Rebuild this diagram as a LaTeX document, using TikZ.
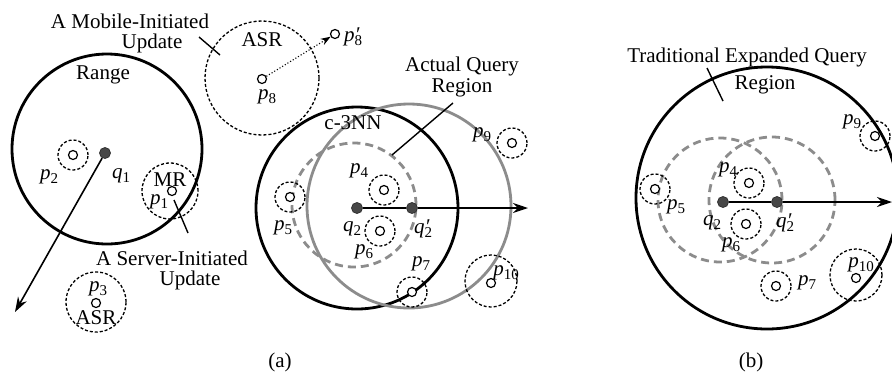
\documentclass[tikz,border=0pt]{standalone}
\usepackage{fontspec}
\setmainfont{Liberation Serif}
\usetikzlibrary{arrows.meta}
% point labels: italic letter with a lowered index, optionally primed
\newcommand\idx[1]{\raisebox{-0.4ex}{\fontsize{15}{15}\selectfont #1}}
\newcommand\lb[2]{\textit{#1}\idx{#2}}
\newcommand\lbp[2]{\textit{#1}\rlap{\kern0.5pt\textit{′}}\idx{#2}}
\begin{document}
\begin{tikzpicture}[x=1pt,y=-1pt,
  every node/.style={font=\fontsize{21}{23}\selectfont, inner sep=0pt},
  bigc/.style={line width=2.8pt},
  grayc/.style={draw=gray!90, line width=2.8pt},
  graydash/.style={draw=gray!90, line width=2.8pt, dash pattern=on 8pt off 5pt},
  sr/.style={line width=1.3pt, dash pattern=on 3pt off 2pt},
  pt/.style={circle, draw, line width=1.2pt, minimum size=9pt, fill=white},
  qd/.style={circle, draw=black!80, fill=black!72, line width=0.8pt, minimum size=11pt},
  callout/.style={line width=1.4pt},
  move/.style={line width=1.6pt, -{Stealth[length=15pt,width=10pt]}}
]
\useasboundingbox (0,0) rectangle (892,376);
\clip (0,0) rectangle (892,376);

% ---------------- (a) ----------------
\coordinate (rangec) at (107,149);
\coordinate (asr8c) at (262,78);
\coordinate (mrc) at (170,191);
\coordinate (asr3c) at (96,302);
\coordinate (aqc) at (409,206);
\coordinate (p10ac) at (491,281);

\draw[bigc] (rangec) circle[radius=95pt];
\draw[sr] (asr8c) circle[radius=57pt];
\draw[sr] (mrc) circle[radius=28pt];
\draw[sr] (asr3c) circle[radius=30pt];

\node[qd] (q1) at (105,153) {};
\coordinate (q1end) at (15,312);
\draw[move] (q1) -- (q1end);

\coordinate (q2a) at (357,208);
\draw[bigc] (q2a) circle[radius=101pt];
\draw[grayc] (aqc) circle[radius=102pt];
\draw[graydash] (354,205) circle[radius=62pt];

\node[pt] (p2a) at (73,155) {};
\draw[sr] (p2a) circle[radius=15pt];
\node[pt] (p1a) at (172,191) {};
\node[pt] (p3a) at (96,303) {};
\node[pt] (p8a) at (262,79) {};
\node[pt] (p8n) at (335,34) {};
\draw[line width=1.1pt, dotted, -{Stealth[length=10pt,width=7pt]}] (p8a) -- (p8n);

\node[pt] (p4a) at (384,190) {};
\draw[sr] (p4a) circle[radius=15pt];
\node[pt] (p6a) at (380,231) {};
\draw[sr] (p6a) circle[radius=15pt];
\node[pt] (p5a) at (290,197) {};
\draw[sr] (p5a) circle[radius=15pt];
\node[pt] (p7a) at (412,292) {};
\draw[sr] (p7a) circle[radius=15pt];
\node[pt] (p9a) at (512,143) {};
\draw[sr] (p9a) circle[radius=15pt];
\draw[sr] (p10ac) circle[radius=26pt];
\node[pt] (p10a) at (491,283) {};

\node[qd] (q2) at (q2a) {};
\node[qd] (q2n) at (412,208) {};
\coordinate (q2end) at (528,208);
\draw[line width=1.6pt] (q2) -- (q2n);
\draw[move] (q2n) -- (q2end);

% texts of (a)
\node (trange) at (103,75) {Range};
\node (tq1) at (121,176) {\lb{q}{1}};
\node (tp2) at (49,177) {\lb{p}{2}};
\node (tmr) at (170,180) {MR};
\node (tp1) at (159,202) {\lb{p}{1}};
\node (tp3) at (98,289) {\lb{p}{3}};
\node (tasr3) at (96,318) {ASR};
\node (tasr8) at (262,40) {ASR};
\node (tp8) at (267,97) {\lb{p}{8}};
\node (tp8n) at (353,37) {\lbp{p}{8}};
\node (tmob1) at (130,21) {A Mobile-Initiated};
\node (tmob2) at (152,43) {Update};
\node (tsrv1) at (172,258) {A Server-Initiated};
\node (tsrv2) at (190,280) {Update};
\node (tknn) at (353,123) {c-3NN};
\node (taq1) at (462,66) {Actual Query};
\node (taq2) at (462,88) {Region};
\node (tp4a) at (359,171) {\lb{p}{4}};
\node (tp6a) at (364,252) {\lb{p}{6}};
\node (tq2a) at (352,229) {\lb{q}{2}};
\node (tq2na) at (423,229) {\lbp{q}{2}};
\node (tp5a) at (283,228) {\lb{p}{5}};
\node (tp7a) at (421,264) {\lb{p}{7}};
\node (tp9a) at (482,135) {\lb{p}{9}};
\node (tp10a) at (506,273) {\lb{p}{10}};
\node (ta) at (280,362) {(a)};

% callout ticks
\coordinate (mob1) at (199,37);  \coordinate (mob2) at (220,55);
\draw[callout] (mob1) -- (mob2);
\coordinate (srv1) at (174,200); \coordinate (srv2) at (188,233);
\draw[callout] (srv1) -- (srv2);
\coordinate (aq1) at (392,155);  \coordinate (aq2) at (453,103);
\draw[callout] (aq1) -- (aq2);

% ---------------- (b) ----------------
\coordinate (tradc) at (767,198);
\draw[bigc] (tradc) circle[radius=131pt];
\draw[graydash] (720,200) circle[radius=62pt];
\draw[graydash] (772,200) circle[radius=63pt];

\node[pt] (p4b) at (749,183) {};
\draw[sr] (p4b) circle[radius=15pt];
\node[pt] (p5b) at (655,189) {};
\draw[sr] (p5b) circle[radius=15pt];
\node[pt] (p6b) at (746,224) {};
\draw[sr] (p6b) circle[radius=15pt];
\node[pt] (p7b) at (776,286) {};
\draw[sr] (p7b) circle[radius=15pt];
\node[pt] (p9b) at (875,136) {};
\draw[sr] (p9b) circle[radius=15pt];
\draw[sr] (856,275) circle[radius=26pt];
\node[pt] (p10b) at (856,278) {};

\node[qd] (q2b) at (723,202) {};
\node[qd] (q2nb) at (777,202) {};
\coordinate (q2bend) at (892,202);
\draw[line width=1.6pt] (q2b) -- (q2nb);
\draw[move] (q2nb) -- (q2bend);

\node (ttr1) at (747,57) {Traditional Expanded Query};
\node (ttr2) at (765,85) {Region};
\coordinate (tr1) at (707,68); \coordinate (tr2) at (723,101);
\draw[callout] (tr1) -- (tr2);
\node (tp4b) at (728,170) {\lb{p}{4}};
\node (tp5b) at (676,207) {\lb{p}{5}};
\node (tp6b) at (731,245) {\lb{p}{6}};
\node (tq2b) at (712,223) {\lb{q}{2}};
\node (tq2nb) at (785,223) {\lbp{q}{2}};
\node (tp7b) at (807,283) {\lb{p}{7}};
\node (tp9b) at (852,122) {\lb{p}{9}};
\node (tp10b) at (861,265) {\lb{p}{10}};
\node (tb) at (751,362) {(b)};
\end{tikzpicture}
\end{document}
